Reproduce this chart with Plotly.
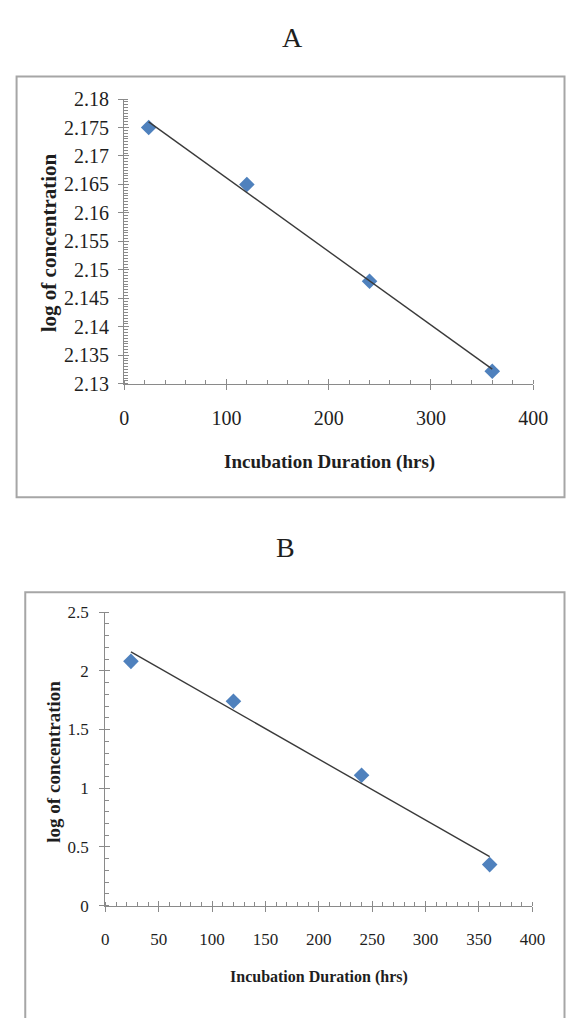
import numpy as np
import plotly.graph_objects as go

# ---- data ----
hours = [24, 120, 240, 360]
log_conc_A = [2.175, 2.165, 2.148, 2.1322]
log_conc_B = [2.08, 1.74, 1.11, 0.35]

x_ticks_A = [0, 100, 200, 300, 400]
y_ticks_A = [2.13, 2.135, 2.14, 2.145, 2.15, 2.155, 2.16, 2.165, 2.17, 2.175, 2.18]
x_ticks_B = [0, 50, 100, 150, 200, 250, 300, 350, 400]
y_ticks_B = [0, 0.5, 1, 1.5, 2, 2.5]

W, H = 566, 1018
def px(x):
    return x / W
def py(y):
    return 1 - y / H

SERIF = "Liberation Serif, Times New Roman, serif"
AXC = "#8a8a8a"
TXT = "#1e1e1e"
MK = "#4F81BD"

fig = go.Figure()

def trend(xs, ys):
    k, b = np.polyfit(xs, ys, 1)
    xx = np.array([min(xs), max(xs)])
    return xx, k * xx + b

# Panel A
tx, ty = trend(hours, log_conc_A)
fig.add_trace(go.Scatter(x=hours, y=log_conc_A, mode="markers", xaxis="x", yaxis="y",
                         marker=dict(symbol="diamond", size=12, color=MK), showlegend=False))
fig.add_trace(go.Scatter(x=tx, y=ty, mode="lines", xaxis="x3", yaxis="y3",
                         line=dict(color="#3a3a3a", width=1.4), showlegend=False))
# Panel B
tx, ty = trend(hours, log_conc_B)
fig.add_trace(go.Scatter(x=hours, y=log_conc_B, mode="markers", xaxis="x2", yaxis="y2",
                         marker=dict(symbol="diamond", size=12, color=MK), showlegend=False))
fig.add_trace(go.Scatter(x=tx, y=ty, mode="lines", xaxis="x4", yaxis="y4",
                         line=dict(color="#3a3a3a", width=1.4), showlegend=False))

def main_axis(domain, rng, tickvals, minor_dtick, fsize, standoff, anchor):
    return dict(domain=domain, range=rng, tickmode="array", tickvals=tickvals,
                ticktext=[f"{v:g}" for v in tickvals],
                showgrid=False, zeroline=False, showline=True, linecolor=AXC, linewidth=1.3,
                ticks="outside", ticklen=5, tickcolor=AXC, tickwidth=1.3,
                minor=dict(ticks="inside", ticklen=4, tickcolor=AXC, tickwidth=1, dtick=minor_dtick,
                           tick0=rng[0], showgrid=False),
                tickfont=dict(family=SERIF, size=fsize, color=TXT),
                ticklabelstandoff=standoff, anchor=anchor, fixedrange=True)

def overlay_axis(base, tickvals, anchor):
    return dict(overlaying=base, matches=base, tickmode="array", tickvals=tickvals,
                showticklabels=False, showgrid=False, zeroline=False, showline=False,
                ticks="inside", ticklen=5, tickcolor=AXC, tickwidth=1.3, anchor=anchor)

xdomA = [px(123.5), px(547.5)]
ydomA = [py(381), py(90)]
xdomB = [px(104), px(546.7)]
ydomB = [py(914.5), py(614.3)]

fig.update_layout(
    width=W, height=H, margin=dict(l=0, r=0, t=0, b=0),
    paper_bgcolor="white", plot_bgcolor="rgba(0,0,0,0)", showlegend=False,
    xaxis=main_axis(xdomA, [0, 400], x_ticks_A, 20, 20, 11, "y"),
    yaxis=main_axis(ydomA, [2.13, 2.18], y_ticks_A, 0.0005, 20, 5, "x"),
    xaxis2=main_axis(xdomB, [0, 400], x_ticks_B, 10, 17, 13, "y2"),
    yaxis2=main_axis(ydomB, [0, 2.5], y_ticks_B, 0.1, 17, 7, "x2"),
    xaxis3=overlay_axis("x", x_ticks_A, "y3"),
    yaxis3=overlay_axis("y", y_ticks_A, "x3"),
    xaxis4=overlay_axis("x2", x_ticks_B, "y4"),
    yaxis4=overlay_axis("y2", y_ticks_B, "x4"),
)

frame = dict(color="#a6a6a6", width=2)
fig.add_shape(type="rect", xref="paper", yref="paper", x0=px(12), x1=px(580), y0=py(497), y1=py(67),
              line=frame, fillcolor="rgba(0,0,0,0)", layer="below")
fig.add_shape(type="rect", xref="paper", yref="paper", x0=px(21), x1=px(580), y0=py(1040), y1=py(594),
              line=frame, fillcolor="rgba(0,0,0,0)", layer="below")

def ann(text, x, y, size, bold=False, angle=0):
    fig.add_annotation(text=f"<b>{text}</b>" if bold else text, xref="paper", yref="paper",
                       x=px(x), y=py(y), xanchor="center", yanchor="middle", showarrow=False,
                       textangle=angle, font=dict(family=SERIF, size=size, color=TXT))

ann("A", 298, 27, 28)
ann("B", 291, 548, 28)
ann("log of concentration", 46, 237, 21, bold=True, angle=-90)
ann("Incubation Duration (hrs)", 336, 461, 19, bold=True)
ann("log of concentration", 50, 767, 19, bold=True, angle=-90)
ann("Incubation Duration (hrs)", 326, 987, 16, bold=True)

fig.write_html("out.html", config={"displayModeBar": False},
               post_script="document.body.style.margin='0px';document.body.style.overflow='hidden';")
